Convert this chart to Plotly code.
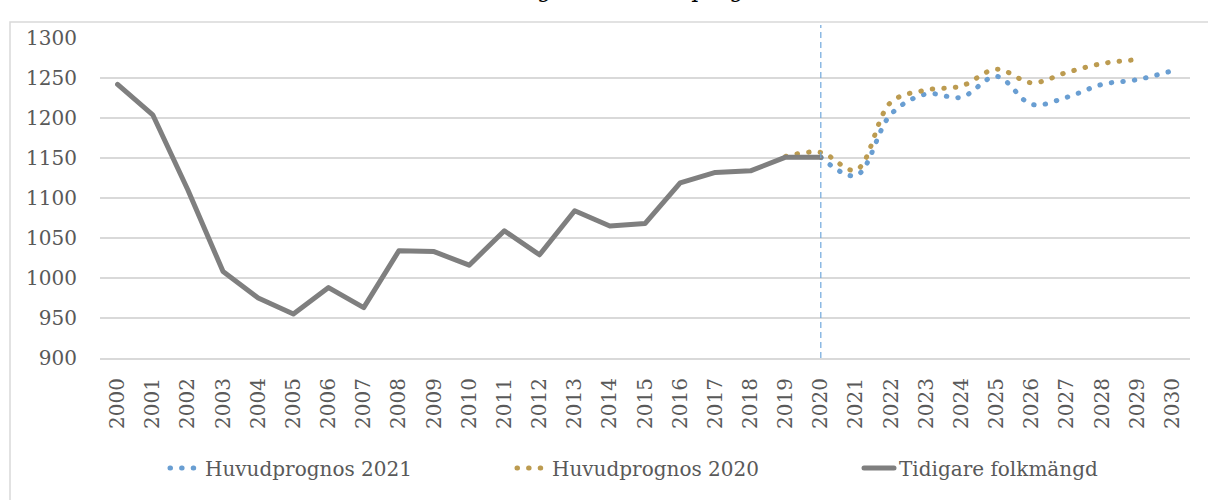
import plotly.graph_objects as go

# Tidigare folkmängd (utfall)
years_hist = [2000, 2001, 2002, 2003, 2004, 2005, 2006, 2007, 2008, 2009, 2010,
              2011, 2012, 2013, 2014, 2015, 2016, 2017, 2018, 2019, 2020]
folkmangd = [1242, 1204, 1110, 1008, 975, 955, 988, 963, 1034, 1033, 1016,
             1059, 1029, 1084, 1065, 1068, 1119, 1132, 1134, 1151, 1151]

# Huvudprognos 2021
years_p21 = [2020, 2021, 2022, 2023, 2024, 2025, 2026, 2027, 2028, 2029, 2030]
prognos_2021 = [1151, 1128, 1205, 1230, 1226, 1252, 1217, 1226, 1242, 1248, 1259]

# Huvudprognos 2020
years_p20 = [2019, 2020, 2021, 2022, 2023, 2024, 2025, 2026, 2027, 2028, 2029]
prognos_2020 = [1152, 1157, 1135, 1220, 1235, 1240, 1261, 1244, 1257, 1268, 1273]

all_years = list(range(2000, 2031))
y_ticks = [900, 950, 1000, 1050, 1100, 1150, 1200, 1250, 1300]

font_family = "DejaVu Serif"
txt_color = "#595959"
grid_color = "#d9d9d9"

# pixel frame of the plot area
L, R, T, B = 100, 18, 38, 142
W, H = 1208, 500
pw = W - L - R
ph = H - T - B


def px(x):
    return (x - L) / pw


def py(y):
    return (H - B - y) / ph


fig = go.Figure()

fig.add_trace(go.Scatter(x=years_p21, y=prognos_2021, mode='lines', name='Huvudprognos 2021',
                         line=dict(color='#699ed2', width=5, dash='0.5px,11.1px', shape='spline')))
fig.add_trace(go.Scatter(x=years_p20, y=prognos_2020, mode='lines', name='Huvudprognos 2020',
                         line=dict(color='#bc9b50', width=5, dash='0.5px,11.1px', shape='spline')))
fig.add_trace(go.Scatter(x=years_hist, y=folkmangd, mode='lines', name='Tidigare folkmängd',
                         line=dict(color='#7f7f7f', width=5)))

# vertical marker at 2020
fig.add_shape(type='line', xref='x', yref='paper', x0=2020, x1=2020, y0=0, y1=py(25),
              line=dict(color='#6fa8dc', width=1.2, dash='6px,4px'), layer='above')

# outer chart border
fig.add_shape(type='rect', xref='paper', yref='paper', x0=px(10), x1=px(1230),
              y0=py(520), y1=py(22), line=dict(color=grid_color, width=1.5), layer='below')

# title (cut off at the top edge)
fig.add_annotation(xref='paper', yref='paper', x=px(595), y=py(4), xanchor='center', yanchor='bottom',
                   text='Total folkmängd, utfall och prognoser', showarrow=False,
                   font=dict(family=font_family, size=22, color='black'))

fig.update_xaxes(range=[1999.5, 2030.5], tickmode='array', tickvals=all_years,
                 ticktext=[str(y) for y in all_years], tickangle=-90,
                 ticks='outside', ticklen=10, tickcolor='rgba(0,0,0,0)',
                 showgrid=False, zeroline=False, showline=True, linecolor=grid_color, linewidth=2,
                 tickfont=dict(family=font_family, size=20, color=txt_color))
fig.update_yaxes(range=[900, 1300], tickmode='array', tickvals=y_ticks,
                 ticks='outside', ticklen=18, tickcolor='rgba(0,0,0,0)',
                 showgrid=True, gridcolor=grid_color, gridwidth=2, zeroline=False,
                 tickfont=dict(family=font_family, size=20, color=txt_color))

fig.update_layout(width=W, height=H, margin=dict(l=L, r=R, t=T, b=B, autoexpand=False),
                  plot_bgcolor='white', paper_bgcolor='white',
                  showlegend=True,
                  legend=dict(orientation='h', x=px(165), y=py(468), xanchor='left', yanchor='middle',
                              entrywidth=302, entrywidthmode='pixels', traceorder='normal',
                              font=dict(family=font_family, size=20, color=txt_color),
                              bgcolor='rgba(0,0,0,0)'))

post = """
document.body.style.margin = '0';
var gd = document.getElementById('{plot_id}');
function roundCaps() {
  gd.querySelectorAll('.js-line, .legendlines path').forEach(function(p) {
    p.style.strokeLinecap = 'round';
    p.style.strokeLinejoin = 'round';
  });
}
roundCaps();
gd.on('plotly_afterplot', roundCaps);
"""

fig.write_html("out.html", post_script=post, config={'displayModeBar': False})
